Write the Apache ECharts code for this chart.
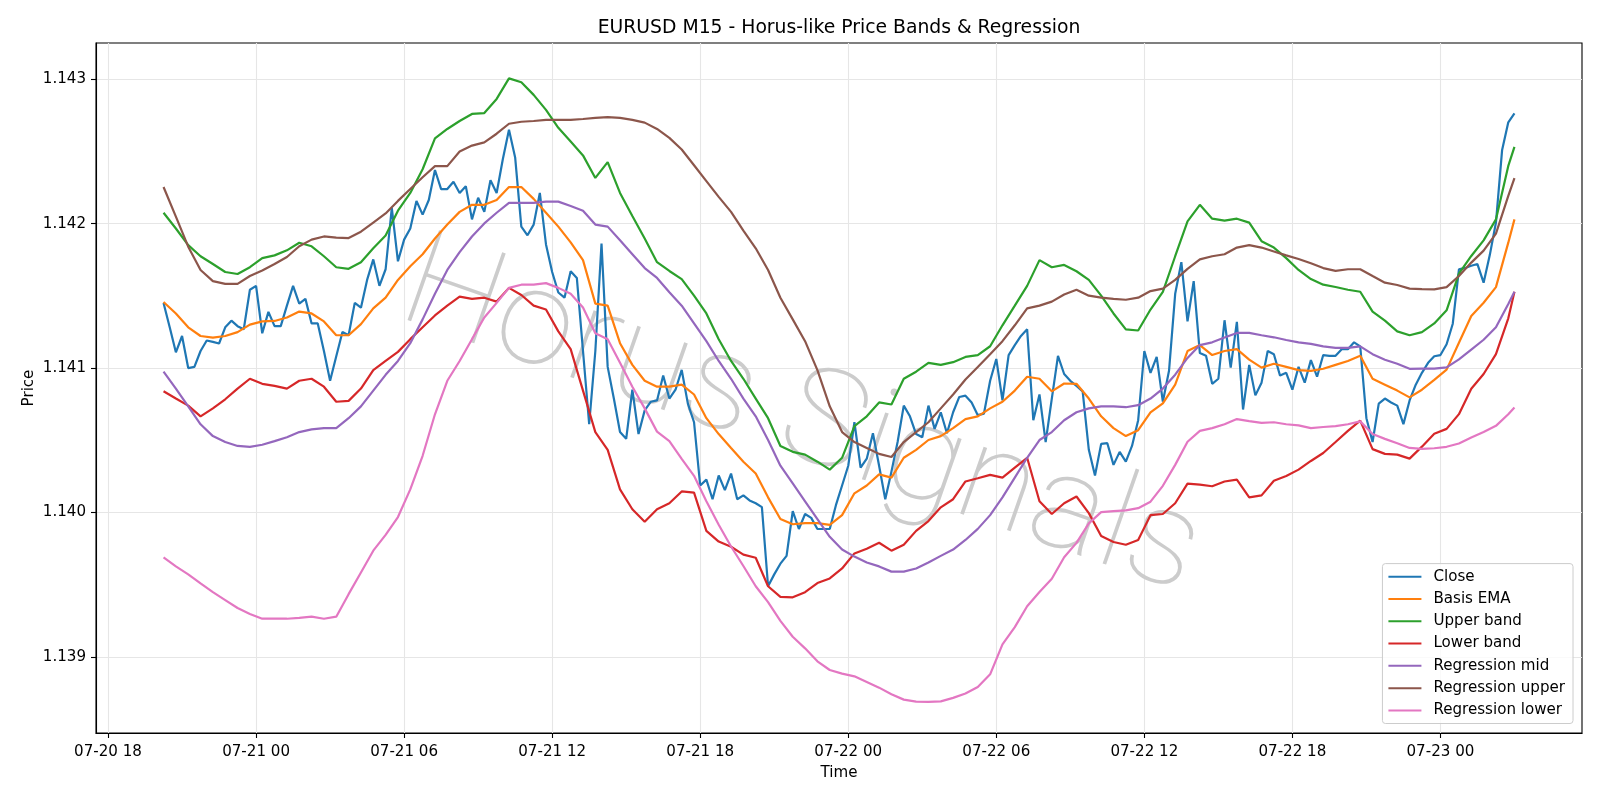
<!DOCTYPE html>
<html>
<head>
<meta charset="utf-8">
<title>EURUSD M15 - Horus-like Price Bands & Regression</title>
<script src="https://cdn.jsdelivr.net/npm/echarts@6/dist/echarts.min.js"></script>
<style>
  html, body { margin: 0; padding: 0; background: #fff; }
  #main { width: 1600px; height: 800px; }
</style>
</head>
<body>
<div id="main"></div>
<script>
// M15 bars, first bar 07-20 20:15 (UTC)
var startTime = Date.UTC(2025, 6, 20, 20, 15);
var barMs = 15 * 60 * 1000;

// close, one value per bar (220 bars)
var closeVals = [
  1.141451,1.141282,1.141109,1.141222,1.141000,1.141008,1.141118,1.141191,1.141181,1.141170,
  1.141282,1.141328,1.141290,1.141268,1.141542,1.141569,1.141241,1.141389,1.141290,1.141290,
  1.141432,1.141569,1.141446,1.141479,1.141309,1.141309,1.141118,1.140912,1.141082,1.141249,
  1.141227,1.141451,1.141418,1.141610,1.141752,1.141569,1.141684,1.142108,1.141739,1.141889,
  1.141966,1.142157,1.142062,1.142163,1.142371,1.142239,1.142239,1.142289,1.142212,1.142259,
  1.142029,1.142179,1.142081,1.142300,1.142212,1.142445,1.142650,1.142458,1.141979,1.141919,
  1.141993,1.142212,1.141856,1.141665,1.141523,1.141487,1.141670,1.141624,1.141118,1.140612,
  1.141118,1.141862,1.141008,1.140789,1.140557,1.140510,1.140850,1.140543,1.140707,1.140767,
  1.140776,1.140948,1.140789,1.140850,1.140987,1.140754,1.140625,1.140187,1.140228,1.140092,
  1.140256,1.140155,1.140270,1.140092,1.140119,1.140084,1.140064,1.140037,1.139490,1.139572,
  1.139646,1.139700,1.140009,1.139886,1.139990,1.139963,1.139886,1.139886,1.139886,1.140051,
  1.140187,1.140324,1.140625,1.140311,1.140373,1.140549,1.140324,1.140092,1.140283,1.140488,
  1.140740,1.140666,1.140543,1.140521,1.140740,1.140579,1.140694,1.140549,1.140694,1.140800,
  1.140809,1.140762,1.140674,1.140685,1.140912,1.141063,1.140776,1.141090,1.141159,1.141222,
  1.141268,1.140639,1.140817,1.140488,1.140789,1.141085,1.140959,1.140912,1.140877,1.140839,
  1.140434,1.140256,1.140475,1.140480,1.140330,1.140420,1.140352,1.140461,1.140639,1.141118,
  1.140967,1.141077,1.140767,1.140981,1.141514,1.141733,1.141323,1.141602,1.141104,1.141085,
  1.140891,1.140926,1.141331,1.141003,1.141320,1.140713,1.141022,1.140811,1.140899,1.141118,
  1.141096,1.140948,1.140967,1.140850,1.141008,1.140899,1.141055,1.140940,1.141090,1.141085,
  1.141085,1.141131,1.141131,1.141178,1.141150,1.140653,1.140488,1.140754,1.140789,1.140762,
  1.140740,1.140612,1.140776,1.140885,1.140967,1.141036,1.141082,1.141090,1.141165,1.141307,
  1.141683,1.141693,1.141708,1.141720,1.141591,1.141782,1.142007,1.142510,1.142701,1.142763
];

// smooth lines: read every 2nd bar (0,2,...,218) plus the last bar (219)
var emaVals = [
  1.141457,1.141378,1.141282,1.141222,1.141211,1.141222,1.141249,1.141301,1.141323,1.141326,
  1.141350,1.141391,1.141378,1.141323,1.141227,1.141227,1.141304,1.141413,1.141487,1.141610,
  1.141705,1.141788,1.141897,1.141993,1.142081,1.142130,1.142130,1.142163,1.142253,1.142253,
  1.142171,1.142075,1.141979,1.141870,1.141747,1.141446,1.141432,1.141172,1.141022,1.140912,
  1.140871,1.140871,1.140885,1.140817,1.140653,1.140543,1.140447,1.140352,1.140270,1.140105,
  1.139955,1.139919,1.139927,1.139927,1.139914,1.139982,1.140133,1.140187,1.140264,1.140242,
  1.140379,1.140434,1.140502,1.140529,1.140584,1.140647,1.140666,1.140721,1.140767,1.140844,
  1.140940,1.140926,1.140839,1.140893,1.140891,1.140789,1.140666,1.140584,1.140529,1.140570,
  1.140694,1.140756,1.140885,1.141118,1.141159,1.141090,1.141118,1.141131,1.141058,1.141003,
  1.141030,1.141008,1.140986,1.140981,1.140995,1.141022,1.141049,1.141085,1.140926,1.140885,
  1.140844,1.140797,1.140850,1.140918,1.140989,1.141175,1.141360,1.141452,1.141560,1.141868,
  1.142029
];
var upperVals = [
  1.142075,1.141966,1.141851,1.141774,1.141720,1.141665,1.141651,1.141698,1.141761,1.141780,
  1.141815,1.141867,1.141843,1.141774,1.141698,1.141687,1.141733,1.141829,1.141917,1.142089,
  1.142212,1.142376,1.142590,1.142655,1.142710,1.142759,1.142765,1.142863,1.143005,1.142978,
  1.142891,1.142787,1.142663,1.142568,1.142472,1.142316,1.142425,1.142212,1.142053,1.141897,
  1.141733,1.141672,1.141616,1.141501,1.141378,1.141200,1.141049,1.140926,1.140789,1.140653,
  1.140461,1.140420,1.140401,1.140352,1.140297,1.140379,1.140598,1.140666,1.140762,1.140748,
  1.140926,1.140975,1.141036,1.141022,1.141041,1.141077,1.141090,1.141151,1.141296,1.141432,
  1.141569,1.141747,1.141698,1.141714,1.141670,1.141610,1.141501,1.141378,1.141268,1.141260,
  1.141405,1.141528,1.141774,1.142015,1.142130,1.142034,1.142020,1.142034,1.142007,1.141878,
  1.141834,1.141761,1.141679,1.141616,1.141577,1.141561,1.141542,1.141528,1.141391,1.141328,
  1.141254,1.141227,1.141249,1.141309,1.141400,1.141653,1.141776,1.141884,1.142029,1.142399,
  1.142531
];
var lowerVals = [
  1.140839,1.140789,1.140740,1.140666,1.140721,1.140784,1.140858,1.140926,1.140891,1.140877,
  1.140858,1.140912,1.140926,1.140871,1.140767,1.140773,1.140858,1.140986,1.141049,1.141112,
  1.141200,1.141282,1.141364,1.141432,1.141495,1.141479,1.141487,1.141460,1.141555,1.141506,
  1.141432,1.141405,1.141254,1.141131,1.140844,1.140557,1.140434,1.140160,1.140023,1.139936,
  1.140023,1.140064,1.140146,1.140138,1.139873,1.139799,1.139763,1.139709,1.139687,1.139490,
  1.139416,1.139413,1.139449,1.139512,1.139544,1.139613,1.139717,1.139750,1.139791,1.139736,
  1.139777,1.139873,1.139941,1.140036,1.140092,1.140215,1.140237,1.140261,1.140242,1.140311,
  1.140379,1.140078,1.139990,1.140064,1.140111,1.139996,1.139837,1.139796,1.139777,1.139810,
  1.139982,1.139990,1.140064,1.140200,1.140193,1.140182,1.140215,1.140228,1.140105,1.140119,
  1.140220,1.140253,1.140297,1.140357,1.140412,1.140488,1.140565,1.140636,1.140439,1.140406,
  1.140401,1.140373,1.140456,1.140546,1.140579,1.140681,1.140857,1.140959,1.141097,1.141344,
  1.141529
];
var regMidVals = [
  1.140975,1.140858,1.140735,1.140611,1.140529,1.140488,1.140461,1.140455,1.140469,1.140494,
  1.140521,1.140557,1.140576,1.140584,1.140584,1.140653,1.140735,1.140844,1.140953,1.141049,
  1.141172,1.141337,1.141514,1.141679,1.141802,1.141911,1.142001,1.142075,1.142144,1.142144,
  1.142144,1.142152,1.142152,1.142122,1.142089,1.141993,1.141979,1.141884,1.141788,1.141692,
  1.141624,1.141525,1.141432,1.141309,1.141186,1.141049,1.140926,1.140789,1.140666,1.140502,
  1.140324,1.140201,1.140078,1.139955,1.139832,1.139744,1.139695,1.139654,1.139627,1.139591,
  1.139591,1.139613,1.139654,1.139700,1.139744,1.139810,1.139887,1.139982,1.140105,1.140242,
  1.140379,1.140502,1.140557,1.140639,1.140694,1.140721,1.140735,1.140735,1.140729,1.140743,
  1.140789,1.140858,1.140954,1.141070,1.141159,1.141178,1.141211,1.141243,1.141243,1.141227,
  1.141213,1.141194,1.141178,1.141167,1.141150,1.141140,1.141140,1.141150,1.141096,1.141058,
  1.141030,1.140995,1.140996,1.140996,1.141005,1.141060,1.141128,1.141196,1.141282,1.141443,
  1.141529
];
var regUpperVals = [
  1.142253,1.142048,1.141840,1.141679,1.141602,1.141583,1.141583,1.141637,1.141676,1.141720,
  1.141769,1.141843,1.141889,1.141911,1.141903,1.141900,1.141944,1.142007,1.142070,1.142157,
  1.142239,1.142321,1.142398,1.142398,1.142499,1.142540,1.142562,1.142622,1.142691,1.142705,
  1.142710,1.142718,1.142718,1.142718,1.142724,1.142732,1.142737,1.142732,1.142718,1.142699,
  1.142655,1.142593,1.142513,1.142404,1.142294,1.142185,1.142081,1.141952,1.141829,1.141679,
  1.141487,1.141337,1.141186,1.140986,1.140735,1.140557,1.140488,1.140447,1.140406,1.140384,
  1.140488,1.140557,1.140625,1.140721,1.140817,1.140921,1.141008,1.141096,1.141186,1.141296,
  1.141413,1.141432,1.141460,1.141509,1.141542,1.141501,1.141487,1.141479,1.141473,1.141487,
  1.141533,1.141550,1.141610,1.141687,1.141752,1.141774,1.141788,1.141834,1.141851,1.141834,
  1.141807,1.141780,1.141755,1.141725,1.141692,1.141673,1.141684,1.141684,1.141637,1.141591,
  1.141575,1.141550,1.141546,1.141545,1.141560,1.141637,1.141730,1.141813,1.141930,1.142192,
  1.142315
];
var regLowerVals = [
  1.139689,1.139627,1.139572,1.139509,1.139449,1.139394,1.139339,1.139298,1.139265,1.139265,
  1.139265,1.139271,1.139279,1.139265,1.139279,1.139435,1.139585,1.139736,1.139845,1.139969,
  1.140160,1.140393,1.140680,1.140912,1.141049,1.141200,1.141350,1.141451,1.141555,1.141577,
  1.141577,1.141588,1.141555,1.141514,1.141419,1.141241,1.141200,1.141036,1.140871,1.140721,
  1.140560,1.140495,1.140372,1.140254,1.140078,1.139915,1.139765,1.139630,1.139490,1.139380,
  1.139250,1.139140,1.139060,1.138970,1.138910,1.138885,1.138866,1.138827,1.138788,1.138742,
  1.138705,1.138691,1.138690,1.138693,1.138717,1.138747,1.138793,1.138880,1.139088,1.139207,
  1.139351,1.139450,1.139542,1.139690,1.139790,1.139925,1.140003,1.140010,1.140015,1.140030,
  1.140075,1.140185,1.140330,1.140490,1.140565,1.140584,1.140611,1.140647,1.140633,1.140620,
  1.140625,1.140611,1.140603,1.140584,1.140592,1.140598,1.140611,1.140631,1.140543,1.140510,
  1.140480,1.140447,1.140441,1.140445,1.140455,1.140478,1.140520,1.140558,1.140600,1.140680,
  1.140727
];

var seriesNames = ['Close', 'Basis EMA', 'Upper band', 'Lower band',
                   'Regression mid', 'Regression upper', 'Regression lower'];
var seriesColors = ['#1f77b4', '#ff7f0e', '#2ca02c', '#d62728', '#9467bd', '#8c564b', '#e377c2'];

// x ticks every 6 hours from 07-20 18:00
var xTicks = [];
for (var k = 0; k < 10; k++) xTicks.push(Date.UTC(2025, 6, 20, 18) + k * 6 * 3600 * 1000);
var yTicks = [1.139, 1.140, 1.141, 1.142, 1.143];
// y limits
var yMin = 1.138474, yMax = 1.143250;

var lastBar = closeVals.length - 1;

function closePairs() {
  return closeVals.map(function (v, i) { return [startTime + i * barMs, v]; });
}
function smoothPairs(vals) {
  return vals.map(function (v, k) {
    var i = Math.min(k * 2, lastBar);
    return [startTime + i * barMs, v];
  });
}

var allData = [closePairs(), smoothPairs(emaVals), smoothPairs(upperVals), smoothPairs(lowerVals),
               smoothPairs(regMidVals), smoothPairs(regUpperVals), smoothPairs(regLowerVals)];

// matplotlib style 5% x margins
var span = lastBar * barMs;
var xMin = startTime - 0.05 * span;
var xMax = startTime + span + 0.05 * span;

function pad2(n) { return (n < 10 ? '0' : '') + n; }

var font = 'DejaVu Sans';
var chart = echarts.init(document.getElementById('main'));

var option = {
  animation: false,
  textStyle: { fontFamily: font },
  title: {
    text: 'EURUSD M15 - Horus-like Price Bands & Regression',
    left: 839,
    top: 19,
    textAlign: 'center',
    padding: 0,
    textStyle: { fontFamily: font, fontSize: 18.8, fontWeight: 'normal', color: '#000' }
  },
  grid: {
    left: 96, right: 18, top: 43, bottom: 67,
    show: true, borderColor: '#000', borderWidth: 1.1
  },
  legend: {
    data: seriesNames,
    orient: 'vertical',
    right: 27,
    bottom: 76.5,
    icon: 'rect',
    itemWidth: 33,
    itemHeight: 2,
    itemGap: 7.2,
    padding: [5.5, 8, 5.5, 6],
    backgroundColor: 'rgba(255,255,255,0.8)',
    borderColor: '#cccccc',
    borderWidth: 1,
    borderRadius: 3,
    textStyle: { fontFamily: font, fontSize: 15.1, color: '#000', lineHeight: 15.1, padding: [0, 0, 0, 7] }
  },
  graphic: [{
    type: 'text',
    x: 800,
    y: 422,
    rotation: -19.3 * Math.PI / 180,
    scaleX: 1.04,
    z: 1,
    silent: true,
    style: {
      text: 'Horus Signals',
      fontFamily: 'Roboto',
      fontWeight: 100,
      fontSize: 134,
      fill: '#cccccc',
      align: 'center',
      verticalAlign: 'middle',
      shadowColor: 'rgba(0,0,0,0.25)',
      shadowBlur: 1,
      shadowOffsetX: 2,
      shadowOffsetY: 2
    }
  }],
  xAxis: {
    type: 'value',
    min: xMin,
    max: xMax,
    name: 'Time',
    nameLocation: 'middle',
    nameGap: 33,
    nameTextStyle: { fontFamily: font, fontSize: 15.1, color: '#000' },
    axisLine: { show: true, lineStyle: { color: '#000', width: 1.1 } },
    axisTick: { show: true, customValues: xTicks, length: 5, lineStyle: { color: '#000', width: 1.1 } },
    axisLabel: {
      customValues: xTicks,
      margin: 11.5,
      fontFamily: font, fontSize: 15.1, color: '#000',
      formatter: function (v) {
        var d = new Date(v);
        return pad2(d.getUTCMonth() + 1) + '-' + pad2(d.getUTCDate()) + ' ' + pad2(d.getUTCHours());
      }
    },
    splitLine: { show: true, lineStyle: { color: '#e6e6e6', width: 1.1 } }
  },
  yAxis: {
    type: 'value',
    min: yMin,
    max: yMax,
    name: 'Price',
    nameLocation: 'middle',
    nameGap: 59,
    nameMoveOverlap: false,
    nameTextStyle: { fontFamily: font, fontSize: 15.1, color: '#000' },
    axisLine: { show: true, lineStyle: { color: '#000', width: 1.1 } },
    axisTick: { show: true, customValues: yTicks, length: 5, lineStyle: { color: '#000', width: 1.1 } },
    axisLabel: {
      customValues: yTicks,
      margin: 10,
      fontFamily: font, fontSize: 15.1, color: '#000',
      formatter: function (v) { return v.toFixed(3); }
    },
    splitLine: { show: true, lineStyle: { color: '#e6e6e6', width: 1.1 } }
  },
  series: seriesNames.map(function (name, idx) {
    return {
      name: name,
      type: 'line',
      data: allData[idx],
      showSymbol: false,
      symbol: 'none',
      color: seriesColors[idx],
      lineStyle: { color: seriesColors[idx], width: 2.2 },
      z: 2
    };
  })
};

chart.setOption(option);
</script>
</body>
</html>
